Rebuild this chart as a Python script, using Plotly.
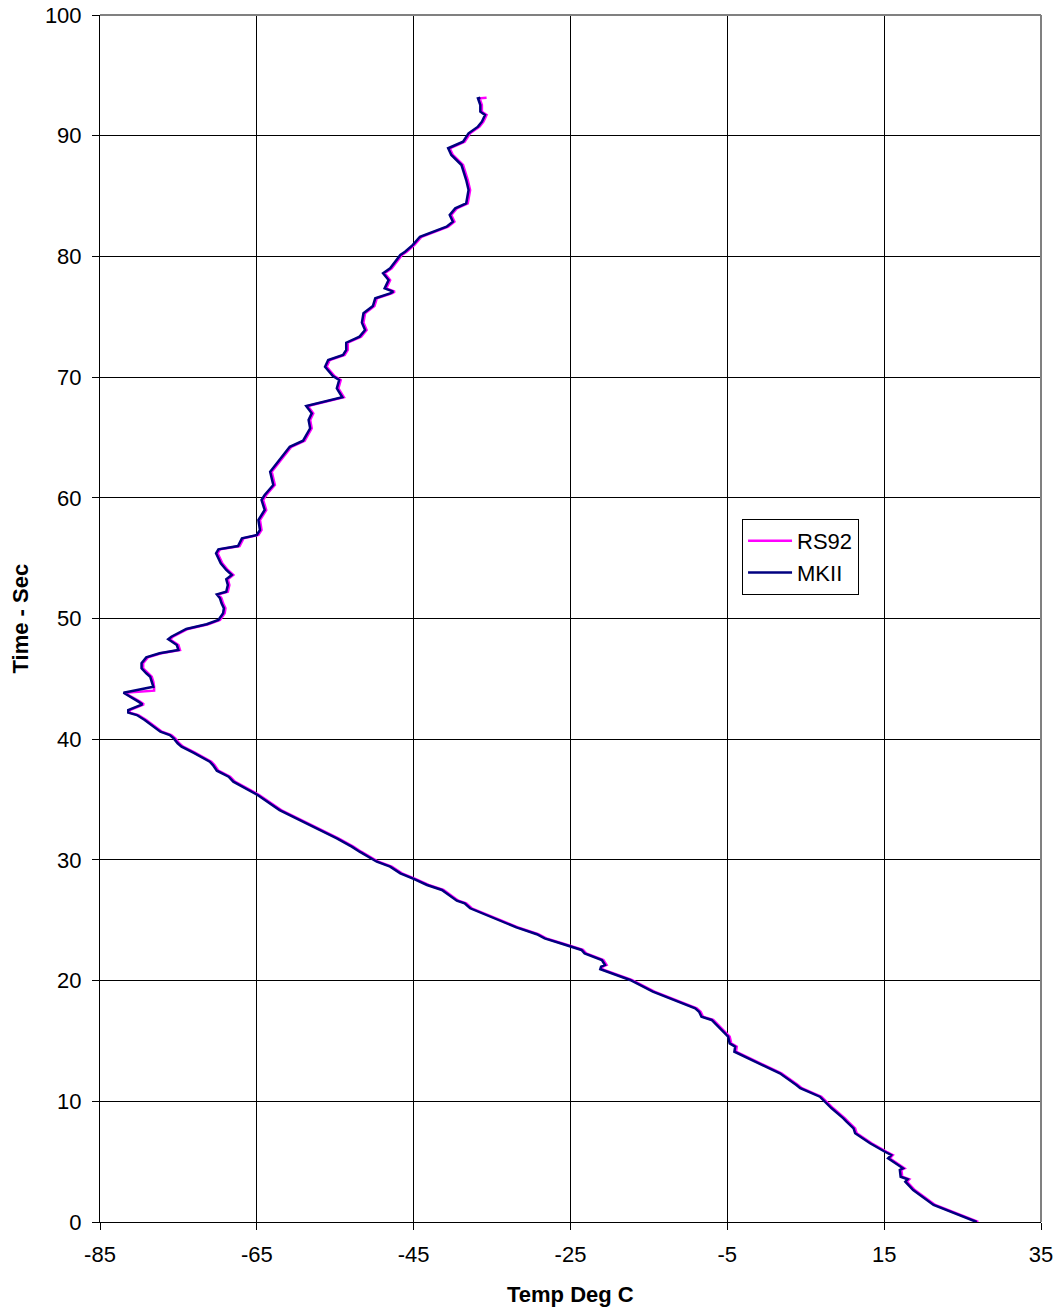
import plotly.graph_objects as go

# Shared time axis (seconds)
time_s = [0.0, 1.41, 2.65, 3.34, 3.54, 3.75, 4.31, 4.45, 5.28, 5.55, 5.82, 6.52, 7.35, 7.76,
          8.31, 8.59, 9.42, 9.97, 10.38, 11.08, 11.35, 12.32, 13.92, 14.11, 14.52, 14.8, 15.35,
          16.18, 16.74, 17.0, 17.42, 17.7, 18.39, 19.08, 20.05, 20.74, 20.94, 21.15, 21.29, 21.7,
          21.98, 22.26, 22.54, 22.81, 23.09, 23.5, 23.84, 24.41, 25.16, 25.99, 26.4, 26.62, 27.51,
          27.92, 28.42, 28.89, 29.44, 29.85, 30.68, 31.1, 31.79, 32.75, 33.16, 34.13, 35.38, 35.73,
          36.48, 36.89, 37.39, 37.86, 38.14, 38.88, 39.38, 39.66, 40.07, 40.35, 40.62, 41.59, 42.0,
          42.2, 42.42, 42.89, 43.11, 43.85, 44.02, 44.35, 44.76, 45.18, 45.46, 45.87, 46.29, 46.78,
          47.12, 47.39, 47.8, 48.28, 48.49, 49.13, 49.52, 49.88, 50.43, 50.85, 51.26, 51.67, 52.0,
          52.22, 52.78, 53.25, 53.61, 54.02, 54.57, 54.99, 55.4, 55.73, 56.0, 56.64, 56.92, 57.33,
          58.16, 58.99, 59.82, 60.23, 61.06, 62.16, 63.4, 64.23, 64.73, 65.2, 65.76, 66.45, 67.0,
          67.6, 68.1, 68.33, 69.07, 69.76, 70.09, 70.86, 71.42, 71.83, 72.25, 72.85, 73.35, 73.9,
          74.51, 75.29, 75.89, 76.53, 76.94, 77.08, 77.35, 78.04, 78.6, 79.01, 80.12, 80.39, 80.95,
          81.63, 82.46, 82.88, 83.43, 83.98, 84.4, 85.5, 86.33, 87.57, 88.4, 88.96, 89.5, 90.2,
          90.75, 91.16, 91.72, 91.99, 92.54, 93.1, 93.15]

mkii_temp = [26.8, 21.3, 18.7, 17.7, 18.0, 17.1, 17.0, 17.4, 15.5, 15.9, 15.1, 13.2, 11.3, 11.1,
             10.2, 9.8, 8.3, 7.5, 6.8, 4.3, 3.8, 1.7, -3.4, -4.1, -4.0, -4.7, -4.9,
             -6.2, -7.0, -8.3, -8.6, -9.1, -11.9, -14.5, -17.4, -20.4, -21.2, -21.1, -20.6, -21.0,
             -22.1, -23.2, -23.6, -25.1, -26.3, -28.3, -29.3, -31.9, -34.8, -37.8, -38.5, -39.5, -41.4,
             -43.3, -45.0, -46.7, -48.0, -49.7, -51.9, -52.9, -54.8, -57.8, -59.1, -62.1, -64.9, -65.9,
             -68.0, -68.6, -70.1, -70.6, -71.0, -73.1, -74.6, -75.1, -75.6, -76.1, -77.3, -79.3, -80.3,
             -81.4, -81.4, -79.6, -80.1, -82.0, -80.7, -78.2, -78.4, -78.6, -79.1, -79.7, -79.7, -79.1,
             -77.4, -75.0, -75.2, -76.3, -75.9, -74.0, -71.4, -69.9, -69.3, -69.2, -69.5, -69.7, -70.1,
             -68.9, -68.7, -68.9, -68.2, -68.9, -69.6, -69.9, -70.2, -69.9, -67.4, -66.9, -65.0, -64.6,
             -64.8, -64.0, -64.4, -64.0, -62.9, -63.3, -61.8, -60.8, -59.1, -58.7, -58.2, -58.4, -58.0,
             -58.7, -55.3, -54.1, -54.8, -54.5, -55.3, -56.3, -55.9, -54.0, -53.6, -53.6, -51.9, -51.2,
             -51.6, -51.4, -50.2, -49.9, -48.0, -47.6, -48.7, -48.2, -48.9, -48.0, -46.7, -46.1, -45.1,
             -44.2, -40.8, -40.0, -40.4, -39.7, -38.3, -38.0, -38.3, -38.9, -40.2, -40.6, -38.7, -38.0,
             -36.8, -36.3, -35.9, -36.5, -36.5, -36.8, -36.5]

rs92_temp = [27.0, 21.5, 18.9, 17.9, 18.2, 17.3, 17.2, 17.6, 15.7, 16.1, 15.3, 13.4, 11.5, 11.3,
             10.4, 10.0, 8.5, 7.7, 7.0, 4.5, 4.0, 1.9, -3.2, -3.9, -3.8, -4.5, -4.7,
             -6.0, -6.8, -8.1, -8.4, -8.9, -11.7, -14.3, -17.2, -20.2, -21.0, -20.9, -20.4, -20.8,
             -21.9, -23.0, -23.4, -24.9, -26.1, -28.1, -29.1, -31.7, -34.6, -37.6, -38.3, -39.3, -41.2,
             -43.1, -44.8, -46.5, -47.8, -49.5, -51.7, -52.7, -54.6, -57.6, -58.9, -61.9, -64.7, -65.7,
             -67.8, -68.4, -69.9, -70.4, -70.8, -72.9, -74.4, -74.9, -75.4, -75.9, -77.1, -79.1, -80.1,
             -81.2, -81.2, -79.4, -79.9, -81.9, -78.1, -78.1, -78.2, -78.4, -78.9, -79.5, -79.5, -78.9,
             -77.2, -74.8, -75.0, -76.1, -75.7, -73.8, -71.2, -69.7, -69.1, -69.0, -69.3, -69.5, -69.9,
             -68.7, -68.5, -68.7, -68.0, -68.7, -69.4, -69.7, -70.0, -69.7, -67.2, -66.7, -64.8, -64.4,
             -64.6, -63.8, -64.2, -63.8, -62.7, -63.1, -61.6, -60.6, -58.9, -58.5, -58.0, -58.2, -57.8,
             -58.5, -55.1, -53.9, -54.6, -54.3, -55.1, -56.1, -55.7, -53.8, -53.4, -53.4, -51.7, -51.0,
             -51.4, -51.2, -50.0, -49.7, -47.8, -47.4, -48.5, -48.0, -48.7, -47.8, -46.5, -45.9, -44.9,
             -44.0, -40.6, -39.8, -40.2, -39.5, -38.1, -37.8, -38.1, -38.7, -40.0, -40.4, -38.5, -37.8,
             -36.6, -36.1, -35.7, -36.3, -36.3, -36.6, -35.7]

x_ticks = [-85, -65, -45, -25, -5, 15, 35]
y_ticks = [0, 10, 20, 30, 40, 50, 60, 70, 80, 90, 100]

FONT = "Liberation Sans, Arial, sans-serif"
FS = 22

fig = go.Figure()
fig.add_trace(go.Scatter(x=rs92_temp, y=time_s, mode="lines", name="RS92",
                         line=dict(color="#FF00FF", width=2.5)))
fig.add_trace(go.Scatter(x=mkii_temp, y=time_s, mode="lines", name="MKII",
                         line=dict(color="#000080", width=2.5)))

fig.update_layout(
    width=1060, height=1312,
    margin=dict(l=100, r=19, t=15, b=90),
    paper_bgcolor="white", plot_bgcolor="white",
    font=dict(family=FONT, size=FS, color="black"),
    showlegend=True,
    legend=dict(x=0.6823, y=0.5824, xanchor="left", yanchor="top",
                bgcolor="white", bordercolor="black", borderwidth=1,
                font=dict(family=FONT, size=FS, color="black"),
                itemwidth=44, tracegroupgap=0),
    xaxis=dict(range=[-85, 35], tickvals=x_ticks, ticktext=[str(v) for v in x_ticks],
               showgrid=True, gridcolor="black", gridwidth=1, zeroline=False,
               showline=True, linecolor="black", linewidth=1,
               ticks="outside", ticklen=7, tickcolor="black", ticklabelstandoff=6,
               automargin=False,
               tickfont=dict(family=FONT, size=FS, color="black")),
    yaxis=dict(range=[0, 100], tickvals=y_ticks, ticktext=[str(v) for v in y_ticks],
               showgrid=True, gridcolor="black", gridwidth=1, zeroline=False,
               showline=True, linecolor="black", linewidth=1,
               ticks="outside", ticklen=7, tickcolor="black", ticklabelstandoff=6,
               automargin=False,
               tickfont=dict(family=FONT, size=FS, color="black")),
    shapes=[
        dict(type="line", xref="paper", yref="paper", x0=0, x1=1, y0=1, y1=1,
             line=dict(color="#808080", width=2), layer="above"),
        dict(type="line", xref="paper", yref="paper", x0=1, x1=1, y0=0, y1=1,
             line=dict(color="#808080", width=2), layer="above"),
    ],
    annotations=[
        dict(text="<b>Temp Deg C</b>", xref="paper", yref="paper", x=0.5, y=0,
             yshift=-72, xanchor="center", yanchor="middle", showarrow=False,
             font=dict(family=FONT, size=FS, color="black")),
        dict(text="<b>Time - Sec</b>", xref="paper", yref="paper", x=0, y=0.5,
             xshift=-80, xanchor="center", yanchor="middle", textangle=-90, showarrow=False,
             font=dict(family=FONT, size=FS, color="black")),
    ],
)

fig.write_html("out.html")
